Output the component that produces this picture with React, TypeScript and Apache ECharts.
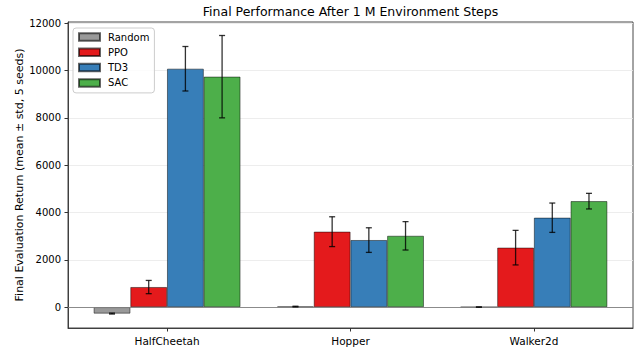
import React, { useEffect, useRef } from 'react';
import * as echarts from 'echarts';

const categories = ['HalfCheetah', 'Hopper', 'Walker2d'];
const algorithms = ['Random', 'PPO', 'TD3', 'SAC'];
const colors = ['#999999', '#e41a1c', '#377eb8', '#4daf4a'];
const randomMean = [-270, 25, 5];
const randomStd = [20, 15, 5];
const ppoMean = [850, 3190, 2515];
const ppoStd = [280, 630, 730];
const td3Mean = [10075, 2835, 3780];
const td3Std = [940, 520, 620];
const sacMean = [9740, 3015, 4480];
const sacStd = [1740, 600, 330];
const yTicks = [0, 2000, 4000, 6000, 8000, 10000, 12000];
const xTicks = [0, 1, 2];

const FONT = 'DejaVu Sans';
const BAR_FRAC = 0.2;

export default function App() {
  const ref = useRef<HTMLDivElement>(null);
  useEffect(() => {
    if (!ref.current) return;
    const chart = echarts.init(ref.current, null, { renderer: 'svg' });
    const means = [randomMean, ppoMean, td3Mean, sacMean];
    const stds = [randomStd, ppoStd, td3Std, sacStd];

    const barSeries = algorithms.map((name, k) => ({
      type: 'bar',
      name,
      data: means[k].map((v, i) => [i, v]),
      barWidth: '20%',
      barGap: '0%',
      z: 2,
      itemStyle: { color: colors[k], borderColor: 'rgba(0,0,0,0.6)', borderWidth: 0.8 },
      markLine:
        k === 0
          ? {
              silent: true,
              symbol: 'none',
              label: { show: false },
              lineStyle: { color: '#808080', width: 0.9, type: 'solid' },
              data: [{ yAxis: 0 }],
            }
          : undefined,
    }));

    const errSeries = algorithms.map((name, k) => ({
      type: 'custom',
      name: name + ' std',
      data: means[k].map((v, i) => [i, v, stds[k][i]]),
      encode: { x: 0, y: 1 },
      z: 5,
      renderItem: (params: any, api: any) => {
        const x = api.value(0);
        const m = api.value(1);
        const s = api.value(2);
        const bw = api.size([1, 0])[0] * BAR_FRAC;
        const off = (k - 1.5) * bw;
        const top = api.coord([x, m + s]);
        const bot = api.coord([x, m - s]);
        const cx = top[0] + off;
        const cap = 3;
        const style = { stroke: '#000', lineWidth: 1.3, opacity: 0.8 };
        return {
          type: 'group',
          children: [
            { type: 'line', shape: { x1: cx, y1: top[1], x2: cx, y2: bot[1] }, style },
            { type: 'line', shape: { x1: cx - cap, y1: top[1], x2: cx + cap, y2: top[1] }, style },
            { type: 'line', shape: { x1: cx - cap, y1: bot[1], x2: cx + cap, y2: bot[1] }, style },
          ],
        };
      },
    }));

    chart.setOption({
      animation: false,
      backgroundColor: '#ffffff',
      title: {
        text: 'Final Performance After 1 M Environment Steps',
        left: 350.5,
        textAlign: 'center',
        top: 4.5,
        padding: 0,
        textStyle: { fontFamily: FONT, fontSize: 12.5, fontWeight: 'normal', color: '#000' },
      },
      legend: {
        data: algorithms,
        orient: 'vertical',
        left: 73,
        top: 28,
        icon: 'rect',
        itemWidth: 21,
        itemHeight: 7.5,
        itemGap: 5.3,
        padding: [4, 5, 5, 5],
        borderColor: '#cccccc',
        borderWidth: 1,
        borderRadius: 3,
        backgroundColor: 'rgba(255,255,255,0.8)',
        textStyle: { fontFamily: FONT, fontSize: 10, lineHeight: 10, color: '#000', padding: [0, 0, 0, 3] },
      },
      grid: {
        left: 68,
        right: 8,
        top: 22,
        bottom: 22,
        show: true,
        borderColor: '#333',
        borderWidth: 0.9,
        backgroundColor: 'transparent',
      },
      xAxis: {
        type: 'value',
        min: -0.54,
        max: 2.54,
        minInterval: 1,
        maxInterval: 1,
        axisLine: { show: true, onZero: false, lineStyle: { color: '#333', width: 0.9 } },
        axisTick: { show: true, length: 3.5, customValues: xTicks, lineStyle: { color: '#333' } },
        axisLabel: {
          customValues: xTicks,
          margin: 7,
          fontFamily: FONT,
          fontSize: 10.5,
          color: '#000',
          formatter: (v: number) => categories[Math.round(v)] ?? '',
        },
        splitLine: { show: false },
      },
      yAxis: {
        type: 'value',
        min: -880,
        max: 12050,
        minInterval: 2000,
        maxInterval: 2000,
        name: 'Final Evaluation Return (mean ± std, 5 seeds)',
        nameLocation: 'middle',
        nameGap: 43,
        nameMoveOverlap: false,
        nameTextStyle: { fontFamily: FONT, fontSize: 11, color: '#000' },
        axisLine: { show: true, onZero: false, lineStyle: { color: '#333', width: 0.9 } },
        axisTick: { show: true, length: 3.5, customValues: yTicks, lineStyle: { color: '#333' } },
        axisLabel: {
          customValues: yTicks,
          margin: 7,
          fontFamily: FONT,
          fontSize: 10,
          color: '#000',
          formatter: (v: number) => String(v),
        },
        splitLine: { show: true, lineStyle: { color: '#e8e8e8', width: 0.8 } },
      },
      series: [...barSeries, ...errSeries],
    } as any);
    return () => chart.dispose();
  }, []);
  return <div ref={ref} style={{ position: 'absolute', left: 0, top: 0, width: 641, height: 350 }} />;
}
